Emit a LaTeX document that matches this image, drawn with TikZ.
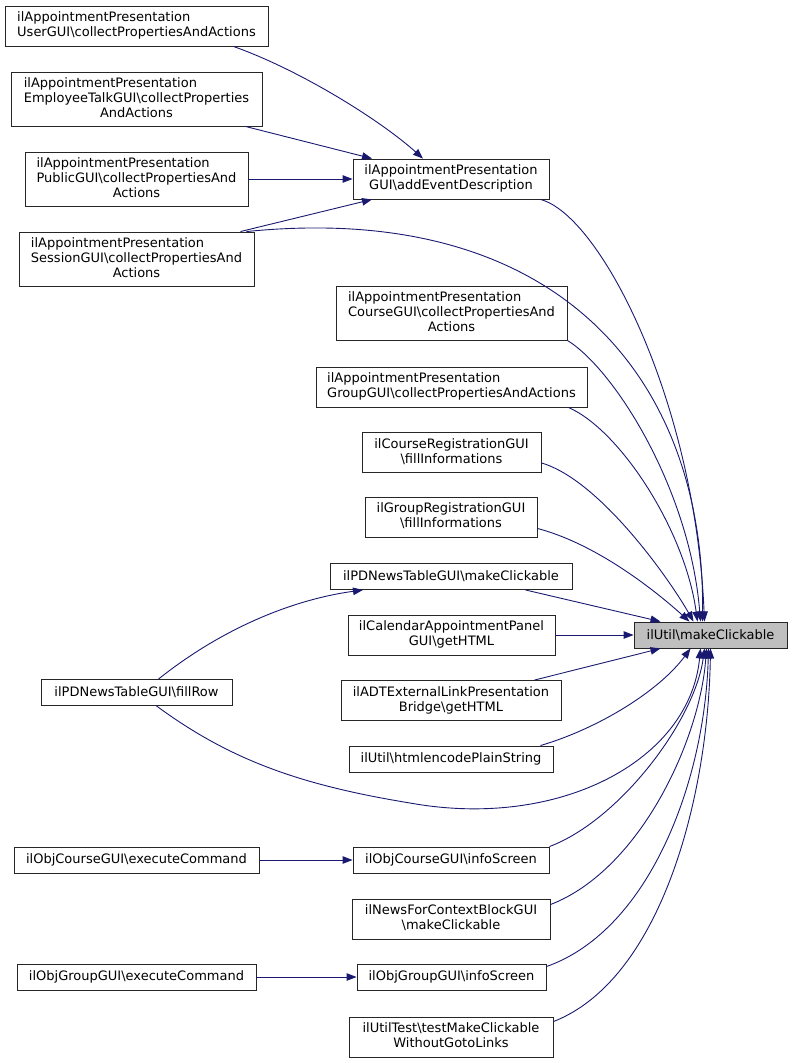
\documentclass[tikz,border=0pt]{standalone}
\usepackage{fontspec}
\setmainfont{DejaVu Sans}
\usetikzlibrary{arrows.meta}

\definecolor{edgeblue}{HTML}{191970}
\definecolor{nodegray}{HTML}{BFBFBF}

\newcommand{\bsl}{\textbackslash}
\newcommand{\fn}[2]{\begin{tabular}{@{}l@{}}#1\\\multicolumn{1}{@{}c@{}}{#2}\end{tabular}}

\tikzset{
  fnbox/.style={draw=black!85, fill=white, line width=0.9pt, inner sep=0pt,
    font=\fontsize{13}{15}\selectfont},
  call/.style={edgeblue, line width=0.9pt, -{Triangle[length=10pt,width=7.5pt]}},
}

\begin{document}
\begin{tikzpicture}[x=1pt,y=-1pt]
  \useasboundingbox (0,0) rectangle (792,1063);
  % left column
  \node[fnbox, minimum width=263pt, minimum height=40pt] (userc) at (136.5,26)
    {\fn{ilAppointmentPresentation}{UserGUI\bsl collectPropertiesAndActions}};
  \node[fnbox, minimum width=251pt, minimum height=54pt] (empc) at (136.5,99)
    {\fn{ilAppointmentPresentation\\EmployeeTalkGUI\bsl collectProperties}{AndActions}};
  \node[fnbox, minimum width=223pt, minimum height=54pt] (pubc) at (136.5,179)
    {\fn{ilAppointmentPresentation\\PublicGUI\bsl collectPropertiesAnd}{Actions}};
  \node[fnbox, minimum width=235pt, minimum height=54pt] (sessc) at (136.5,259)
    {\fn{ilAppointmentPresentation\\SessionGUI\bsl collectPropertiesAnd}{Actions}};
  \node[fnbox, minimum width=191pt, minimum height=26pt] (fillrow) at (136.5,692.5)
    {ilPDNewsTableGUI\bsl fillRow};
  \node[fnbox, minimum width=245pt, minimum height=26pt] (ocexec) at (136.5,860)
    {ilObjCourseGUI\bsl executeCommand};
  \node[fnbox, minimum width=239pt, minimum height=26pt] (ogexec) at (136.5,977)
    {ilObjGroupGUI\bsl executeCommand};
  % middle column
  \node[fnbox, minimum width=196pt, minimum height=40pt] (addev) at (451,179)
    {\fn{ilAppointmentPresentation}{GUI\bsl addEventDescription}};
  \node[fnbox, minimum width=231pt, minimum height=54pt] (coursec) at (451.5,313)
    {\fn{ilAppointmentPresentation\\CourseGUI\bsl collectPropertiesAnd}{Actions}};
  \node[fnbox, minimum width=271pt, minimum height=40pt] (groupc) at (451.5,387)
    {\fn{ilAppointmentPresentation}{GroupGUI\bsl collectPropertiesAndActions}};
  \node[fnbox, minimum width=179pt, minimum height=40pt] (creg) at (451.5,452.5)
    {\fn{ilCourseRegistrationGUI}{\bsl fillInformations}};
  \node[fnbox, minimum width=172pt, minimum height=40pt] (greg) at (451,517)
    {\fn{ilGroupRegistrationGUI}{\bsl fillInformations}};
  \node[fnbox, minimum width=242pt, minimum height=26pt] (pdmc) at (451,576.5)
    {ilPDNewsTableGUI\bsl makeClickable};
  \node[fnbox, minimum width=207pt, minimum height=40pt] (cal) at (451.5,635)
    {\fn{ilCalendarAppointmentPanel}{GUI\bsl getHTML}};
  \node[fnbox, minimum width=220pt, minimum height=40pt] (adt) at (451,700.5)
    {\fn{ilADTExternalLinkPresentation}{Bridge\bsl getHTML}};
  \node[fnbox, minimum width=204pt, minimum height=26pt] (html) at (451,759)
    {ilUtil\bsl htmlencodePlainString};
  \node[fnbox, minimum width=196pt, minimum height=26pt] (ocinfo) at (451,860)
    {ilObjCourseGUI\bsl infoScreen};
  \node[fnbox, minimum width=198pt, minimum height=40pt] (news) at (451,919)
    {\fn{ilNewsForContextBlockGUI}{\bsl makeClickable}};
  \node[fnbox, minimum width=189pt, minimum height=26pt] (oginfo) at (451.5,977)
    {ilObjGroupGUI\bsl infoScreen};
  \node[fnbox, minimum width=204pt, minimum height=40pt] (utest) at (451,1037)
    {\fn{ilUtilTest\bsl testMakeClickable}{WithoutGotoLinks}};
  % the called function
  \node[fnbox, fill=nodegray, minimum width=153pt, minimum height=26pt] (mc) at (710.5,635)
    {ilUtil\bsl makeClickable};

  % straight calls
  \path[call]
    (pubc.east) edge (addev.west)
    ([xshift=-17pt]empc.south east) edge ([xshift=-79pt]addev.north)
    ([xshift=-14pt]sessc.north east) edge ([xshift=-79pt]addev.south)
    ([xshift=-47pt]pdmc.south east) edge ([xshift=-50pt]mc.north)
    (cal.east) edge (mc.west)
    ([xshift=-27pt]adt.north east) edge ([xshift=-50pt]mc.south)
    (ocexec.east) edge (ocinfo.west)
    (ogexec.east) edge (oginfo.west);

  % curved calls
  \draw[call] ([xshift=-35pt]userc.south east) .. controls (300,70) and (380,120) .. ([xshift=-28pt]addev.north);
  \draw[call] ([xshift=-8pt]sessc.north east) .. controls (560,200) and (705,380) .. ([xshift=-8pt]mc.north);
  \draw[call] ([xshift=-9pt]addev.south east) .. controls (600,215) and (695,400) .. ([xshift=-6pt]mc.north);
  \draw[call] (coursec.south east) .. controls (615,370) and (690,490) .. ([xshift=-10pt]mc.north);
  \draw[call] ([xshift=-19pt]groupc.south east) .. controls (620,430) and (685,530) .. ([xshift=-13pt]mc.north);
  \draw[call] ([yshift=10pt]creg.south east) .. controls (600,480) and (670,580) .. ([xshift=-17pt]mc.north);
  \draw[call] ([yshift=9pt]greg.south east) .. controls (600,545) and (660,595) .. ([xshift=-21pt]mc.north);
  \draw[call] ([xshift=-13pt]html.north east) .. controls (600,728) and (660,690) .. ([xshift=-20pt]mc.south);
  \draw[call] ([xshift=22pt]fillrow.north) .. controls (220,630) and (290,600) .. ([xshift=-88pt]pdmc.south);
  \draw[call] ([xshift=20pt]fillrow.south) .. controls (230,760) and (300,785) .. (410,803)
    .. controls (560,830) and (690,760) .. ([xshift=-10pt]mc.south);
  \draw[call] (ocinfo.north east) .. controls (620,820) and (695,720) .. ([xshift=-6pt]mc.south);
  \draw[call] ([yshift=-6pt]news.north east) .. controls (640,870) and (700,740) .. ([xshift=-4pt]mc.south);
  \draw[call] ([yshift=-3pt]oginfo.north east) .. controls (650,930) and (705,780) .. ([xshift=-2pt]mc.south);
  \draw[call] ([yshift=-5pt]utest.north east) .. controls (660,980) and (708,800) .. (mc.south);
\end{tikzpicture}
\end{document}
